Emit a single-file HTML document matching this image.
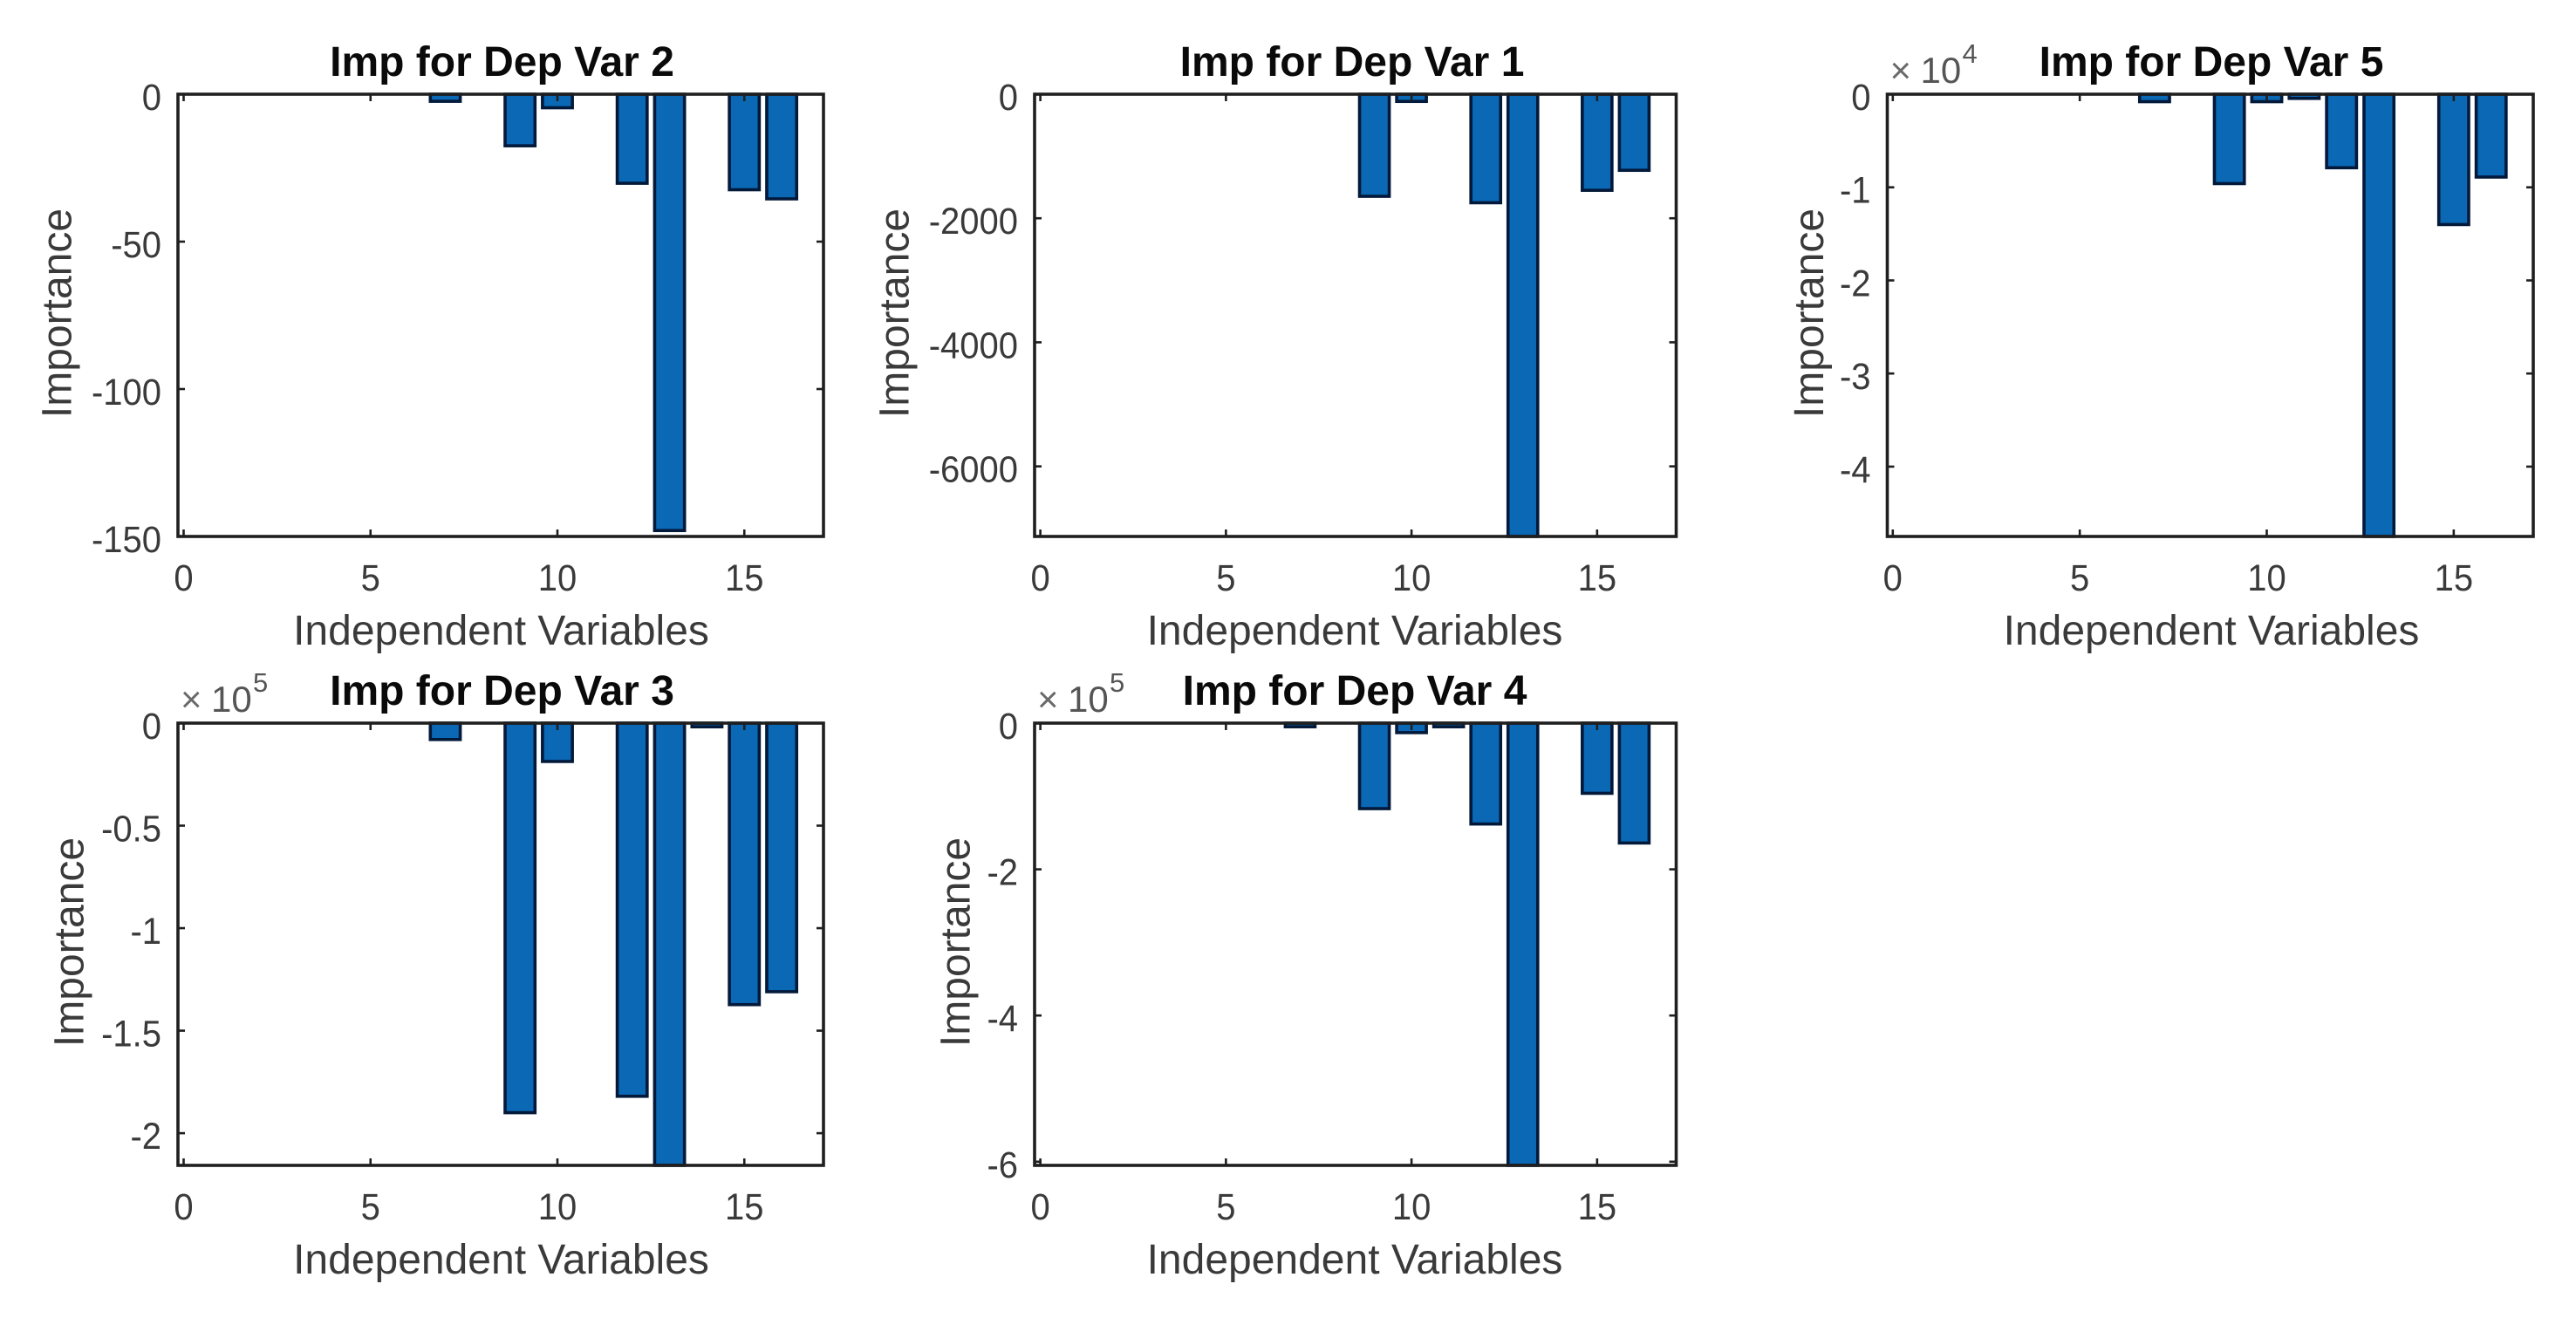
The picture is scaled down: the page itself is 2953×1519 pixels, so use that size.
<!DOCTYPE html>
<html lang="en">
<head>
<meta charset="utf-8">
<title>Importance for Dependent Variables</title>
<style>
html,body{margin:0;padding:0;background:#fff;}
#figure{display:block;width:2953px;height:1519px;background:#fff;}
text{font-family:"Liberation Sans",Arial,sans-serif;}
</style>
</head>
<body>
<svg id="figure" xmlns="http://www.w3.org/2000/svg" width="2953" height="1519" viewBox="0 0 2953 1519"></svg>
<script>
// ---- Chart data ----
const categories = [1, 2, 3, 4, 5, 6, 7, 8, 9, 10, 11, 12, 13, 14, 15, 16];
const xTickValues = [0, 5, 10, 15];
const xTickLabels = ['0', '5', '10', '15'];

const depVar2Values = [0, 0, 0, 0, 0, 0, -2.4, 0, -17.5, -4.6, 0, -30.2, -148, 0, -32.4, -35.5];
const depVar1Values = [0, 0, 0, 0, 0, 0, 0, 0, -1646, -116, 0, -1750, -7130, 0, -1549, -1227];
const depVar5Values = [0, 0, 0, 0, 0, 0, -0.08, 0, -0.96, -0.08, -0.045, -0.79, -4.75, 0, -1.4, -0.89];
const depVar3Values = [0, 0, 0, 0, 0, 0, -0.08, 0, -1.9, -0.187, 0, -1.82, -2.157, -0.018, -1.373, -1.31];
const depVar4Values = [0, 0, 0, 0, 0, 0, -0.05, 0, -1.17, -0.13, -0.05, -1.38, -6.05, 0, -0.96, -1.64];

const depVar2YTicks = [0, -50, -100, -150];
const depVar1YTicks = [0, -2000, -4000, -6000];
const depVar5YTicks = [0, -1, -2, -3, -4];
const depVar3YTicks = [0, -0.5, -1, -1.5, -2];
const depVar4YTicks = [0, -2, -4, -6];

const depVar2YLabels = ['0', '-50', '-100', '-150'];
const depVar1YLabels = ['0', '-2000', '-4000', '-6000'];
const depVar5YLabels = ['0', '-1', '-2', '-3', '-4'];
const depVar3YLabels = ['0', '-0.5', '-1', '-1.5', '-2'];
const depVar4YLabels = ['0', '-2', '-4', '-6'];

const depVar2YMin = -150;
const depVar1YMin = -7130;
const depVar5YMin = -4.75;
const depVar3YMin = -2.157;
const depVar4YMin = -6.05;

// ---- Panel wiring and layout ----
const panels = [
  {key:'dep-var-2', title:'Imp for Dep Var 2', values:depVar2Values, yTicks:depVar2YTicks, yLabels:depVar2YLabels, yMin:depVar2YMin, exp:'',
   left:204, right:944, top:108, bottom:615, zeroX:210.5, unit:42.85, yLabelX:81.5, titleX:575.5, labelX:574.5},
  {key:'dep-var-1', title:'Imp for Dep Var 1', values:depVar1Values, yTicks:depVar1YTicks, yLabels:depVar1YLabels, yMin:depVar1YMin, exp:'',
   left:1186, right:1921.5, top:108, bottom:615, zeroX:1192.6, unit:42.55, yLabelX:1041.5, titleX:1550, labelX:1553},
  {key:'dep-var-5', title:'Imp for Dep Var 5', values:depVar5Values, yTicks:depVar5YTicks, yLabels:depVar5YLabels, yMin:depVar5YMin, exp:'4',
   left:2163.5, right:2904, top:108, bottom:615, zeroX:2169.8, unit:42.87, yLabelX:2090, titleX:2535, labelX:2535},
  {key:'dep-var-3', title:'Imp for Dep Var 3', values:depVar3Values, yTicks:depVar3YTicks, yLabels:depVar3YLabels, yMin:depVar3YMin, exp:'5',
   left:204, right:944, top:829, bottom:1336, zeroX:210.5, unit:42.85, yLabelX:95.5, titleX:575.5, labelX:574.5},
  {key:'dep-var-4', title:'Imp for Dep Var 4', values:depVar4Values, yTicks:depVar4YTicks, yLabels:depVar4YLabels, yMin:depVar4YMin, exp:'5',
   left:1186, right:1921.5, top:829, bottom:1336, zeroX:1192.6, unit:42.55, yLabelX:1111.5, titleX:1553, labelX:1553}
];

const BAR_WIDTH = 0.8;
const svg = document.getElementById('figure');
const NS = 'http://www.w3.org/2000/svg';

function make(parent, tag, attrs, content) {
  const node = document.createElementNS(NS, tag);
  for (const k in attrs) node.setAttribute(k, attrs[k]);
  if (content !== undefined) node.textContent = content;
  parent.appendChild(node);
  return node;
}

function drawPanel(p) {
  const xScale = v => p.zeroX + v * p.unit;
  const yScale = v => p.top + (v / p.yMin) * (p.bottom - p.top);

  const g = make(svg, 'g', {});
  
  

  // bars
  p.values.forEach((val, i) => {
    if (val === 0) return;
    const cx = xScale(categories[i]);
    const w = BAR_WIDTH * p.unit;
    const y0 = yScale(0);
    const y1 = yScale(val);
    const bar = make(g, 'rect', {x:cx - w / 2, y:y0, width:w, height:y1 - y0,
      fill:'#0a68b5', stroke:'#03193a', 'stroke-width':3.6});
    
    
  });

  // axes box
  const box = make(g, 'rect', {x:p.left, y:p.top, width:p.right - p.left, height:p.bottom - p.top,
    fill:'none', stroke:'#1f1f1f', 'stroke-width':3.6});
  
  

  // x ticks
  xTickValues.forEach((v, i) => {
    const x = xScale(v);
    const t1 = make(g, 'line', {x1:x, x2:x, y1:p.bottom, y2:p.bottom - 8, stroke:'#1f1f1f', 'stroke-width':2.6});
    
    
    const t2 = make(g, 'line', {x1:x, x2:x, y1:p.top, y2:p.top + 8, stroke:'#1f1f1f', 'stroke-width':2.6});
    
    
    const label = make(g, 'text', {'text-anchor':'middle', 'font-size':43, fill:'#3a3a3a',
      transform:'translate(' + x + ' ' + (p.bottom + 62) + ') scale(0.93 1)'}, xTickLabels[i]);
    
    
  });

  // y ticks
  p.yTicks.forEach((v, i) => {
    const y = yScale(v);
    const t1 = make(g, 'line', {x1:p.left, x2:p.left + 8, y1:y, y2:y, stroke:'#1f1f1f', 'stroke-width':2.6});
    
    
    const t2 = make(g, 'line', {x1:p.right, x2:p.right - 8, y1:y, y2:y, stroke:'#1f1f1f', 'stroke-width':2.6});
    
    
    const label = make(g, 'text', {'text-anchor':'end', 'font-size':43, fill:'#3a3a3a',
      transform:'translate(' + (p.left - 19) + ' ' + (y + 18) + ') scale(0.93 1)'}, p.yLabels[i]);
    
    
  });

  // title
  const title = make(g, 'text', {x:p.titleX, y:p.top - 21, 'text-anchor':'middle', 'font-size':48, 'font-weight':'bold', fill:'#0a0a0a'}, p.title);
  
  

  // x label
  const xLabel = make(g, 'text', {x:p.labelX, y:p.bottom + 124, 'text-anchor':'middle', 'font-size':48, fill:'#3a3a3a'}, 'Independent Variables');
  
  

  // y label
  const cy = (p.top + p.bottom) / 2 - 2.5;
  const yLabel = make(g, 'text', {x:0, y:0, 'text-anchor':'middle', 'font-size':48, fill:'#3a3a3a',
    transform:'translate(' + p.yLabelX + ' ' + cy + ') rotate(-90)'}, 'Importance');
  
  

  // exponent
  if (p.exp) {
    const base = make(g, 'text', {x:p.left + 3, y:p.top - 13, 'font-size':42, fill:'#6a6a6a'}, '\u00d7');
    
    
    const ten = make(g, 'text', {x:p.left + 38, y:p.top - 13, 'font-size':42, fill:'#555'}, '10');
    
    
    const sup = make(g, 'text', {x:p.left + 86, y:p.top - 36, 'font-size':31, fill:'#555'}, p.exp);
    
    
  }
}

panels.forEach(drawPanel);
</script>
</body>
</html>
